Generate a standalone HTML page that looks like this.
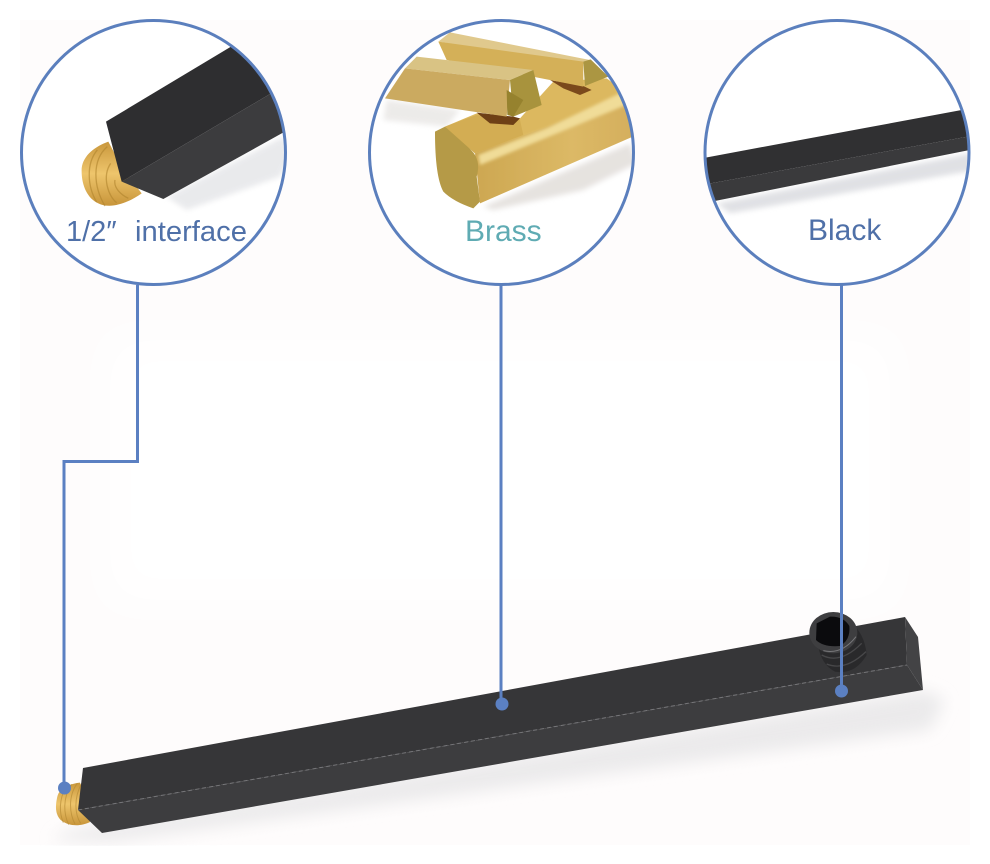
<!DOCTYPE html>
<html><head><meta charset="utf-8"><style>
html,body{margin:0;padding:0;background:#fff;width:990px;height:864px;overflow:hidden}
svg{display:block}
text{font-family:"Liberation Sans",Arial,sans-serif}
</style></head><body>
<svg width="990" height="864" viewBox="0 0 990 864" xmlns="http://www.w3.org/2000/svg">
<defs>
<filter id="b6" x="-30%" y="-60%" width="160%" height="220%"><feGaussianBlur stdDeviation="8"/></filter>
<filter id="b20" x="-30%" y="-60%" width="160%" height="220%"><feGaussianBlur stdDeviation="22"/></filter>
<filter id="b1"><feGaussianBlur stdDeviation="1"/></filter>
<filter id="soft" x="-5%" y="-5%" width="110%" height="110%"><feGaussianBlur stdDeviation="0.5"/></filter>
<filter id="band" x="-10%" y="-30%" width="120%" height="160%"><feGaussianBlur stdDeviation="5"/></filter>
<clipPath id="c1"><circle cx="153.500" cy="152.500" r="132"/></clipPath>
<clipPath id="c2"><circle cx="501.500" cy="152.500" r="132"/></clipPath>
<clipPath id="c3"><circle cx="837" cy="152.500" r="132"/></clipPath>
<linearGradient id="gold" x1="0" y1="0" x2="0" y2="1"><stop offset="0" stop-color="#c9973c"/><stop offset=".5" stop-color="#eec56c"/><stop offset="1" stop-color="#c8953a"/></linearGradient>
<linearGradient id="brassSide" x1="0" y1="0" x2="1" y2="0"><stop offset="0" stop-color="#cda751"/><stop offset=".6" stop-color="#dcb966"/><stop offset="1" stop-color="#d4ae5c"/></linearGradient>
</defs>

<rect width="990" height="864" fill="#fff"/>
<rect x="20" y="20" width="950" height="825" fill="#fefcfc"/>
<rect x="110" y="340" width="780" height="260" fill="#fff" filter="url(#b20)"/>

<!-- main bar shadow -->
<polygon points="70,830 923,690 945,700 930,730 110,842 50,840" fill="#dcdcde" filter="url(#b6)" opacity=".55"/>
<rect x="0" y="846" width="990" height="18" fill="#fff"/>

<!-- thread -->
<g transform="translate(30 740) scale(.3333)">
<path d="M150 128 C115 132 88 145 82 170 C74 205 78 225 92 240 C120 262 155 258 180 246 L170 190Z" fill="url(#gold)"/>
<g fill="none" stroke="#b58a34" stroke-width="3" opacity=".65">
<path d="M142 130 C112 170 120 225 135 252"/><path d="M125 133 C96 175 102 225 116 254"/><path d="M108 140 C86 180 88 220 100 248"/><path d="M155 130 C130 175 135 225 152 250"/>
</g>
</g>

<!-- main bar -->
<polygon points="83,768 905,617 907,665 78,810" fill="#363638"/>
<polygon points="78,810 907,665 923,690 102,833" fill="#3d3d3f"/>
<polygon points="905,617 918,637 923,690 907,665" fill="#434345"/>
<line x1="78" y1="810" x2="907" y2="665" stroke="#77777a" stroke-width="1" stroke-dasharray="4 3"/>

<!-- fitting -->
<g transform="translate(780 590) scale(.3333)">
<path d="M115 170 Q125 225 165 245 Q225 255 260 195 Q255 140 225 110Z" fill="#29292b"/>
<g fill="none" stroke="#474749" stroke-width="4">
<path d="M125 195 Q180 225 245 160"/><path d="M140 222 Q195 245 258 185"/>
</g>
<ellipse cx="160" cy="128" rx="72" ry="62" fill="#3e3e40"/>
<path d="M110 100 L150 80 Q190 78 208 108 Q212 150 180 168 Q130 172 108 150Z" fill="#0b0b0d"/>
<path d="M130 182 Q185 195 228 140" fill="none" stroke="#77777a" stroke-width="3"/>
</g>

<!-- connectors -->
<g fill="none" stroke="#5b80c2" stroke-width="3">
<path d="M137.500 285V461.500H64V788"/>
<path d="M501 285V704"/>
<path d="M841.500 285V691"/>
</g>
<g fill="#5b80c2">
<circle cx="64.500" cy="788" r="6.500"/>
<circle cx="502" cy="704" r="6.500"/>
<circle cx="841.500" cy="691" r="6.500"/>
</g>

<!-- circle 1 -->
<circle cx="153.500" cy="152.500" r="132" fill="#fff"/>
<g clip-path="url(#c1)">
<g transform="scale(.3333)">
<polygon points="500,590 850,410 870,470 840,530 560,630" fill="#e4e5e8" filter="url(#b6)" opacity=".8"/>
<path d="M325 425 C285 440 250 465 245 505 C243 555 262 595 295 610 C335 630 390 605 425 580 L365 500Z" fill="url(#gold)"/>
<g fill="none" stroke="#b0842e" stroke-width="4" opacity=".6">
<path d="M322 440 C275 480 280 560 315 618"/><path d="M292 450 C258 490 262 560 290 606"/><path d="M332 490 C305 530 325 590 350 608"/><path d="M345 540 C340 565 365 585 385 595"/>
</g>
<polygon points="318,365 785,85 905,226 365,545" fill="#2e2e30"/>
<polygon points="365,545 905,226 945,345 490,597" fill="#3c3c3e"/>
</g>
</g>
<circle cx="153.500" cy="152.500" r="132" fill="none" stroke="#5b7fbd" stroke-width="3"/>
<text x="66" y="241" font-size="29" fill="#4f70a8">1/2″</text>
<text x="135" y="241" font-size="29" fill="#4f70a8" textLength="112" lengthAdjust="spacingAndGlyphs">interface</text>

<!-- circle 2 -->
<circle cx="501.500" cy="152.500" r="132" fill="#fff"/>
<g clip-path="url(#c2)">
<g transform="translate(350 0) scale(.3333)">
<polygon points="400,620 840,430 860,490 700,570 430,630" fill="#e0dcd8" filter="url(#b6)" opacity=".8"/>
<polygon points="110,300 330,330 290,380 100,360" fill="#e8e6e4" filter="url(#b6)" opacity=".8"/>
<g filter="url(#soft)">
<!-- big bar -->
<polygon points="285,380 380,340 510,355 610,245 770,235 860,300 375,460" fill="#dcb85f"/>
<polygon points="375,460 860,280 860,405 390,610" fill="url(#brassSide)"/>
<polygon points="385,465 590,385 830,270 840,310 390,495" fill="#f0dc98" filter="url(#band)"/>
<path d="M255 395 L285 380 Q330 410 372 460 Q392 490 380 530 L390 605 L370 625 Q310 605 280 575 Q255 530 255 395Z" fill="#b59a46"/>
<polygon points="285,380 375,460 520,405 510,360 380,345" fill="#d3ad52"/>
<polygon points="560,375 610,245 730,270 690,320" fill="#dcb85f"/>
<!-- contact shadows -->
<polygon points="380,338 490,350 510,355 490,375 420,370" fill="#6e3f17" filter="url(#b1)"/>
<polygon points="600,240 700,258 725,270 690,285 640,265" fill="#7a4a1c" filter="url(#b1)"/>
<!-- back bar -->
<polygon points="265,125 300,97 720,180 695,195" fill="#e0c98d"/>
<polygon points="265,125 700,185 700,260 600,240 290,180" fill="#d4b058"/>
<polygon points="700,185 722,178 775,230 705,258" fill="#ab9642"/>
<!-- front bar -->
<polygon points="165,205 200,170 550,210 480,240" fill="#d9c384"/>
<polygon points="165,205 480,240 470,350 105,295" fill="#cbaa60"/>
<polygon points="480,240 550,210 575,315 490,350" fill="#a8933e"/>
<polygon points="470,270 520,300 490,350 472,345" fill="#96822f"/>
</g>
</g>
</g>
<circle cx="501.500" cy="152.500" r="132" fill="none" stroke="#5b7fbd" stroke-width="3"/>
<text x="465" y="241" font-size="30" fill="#5fabb3">Brass</text>

<!-- circle 3 -->
<circle cx="837" cy="152.500" r="132" fill="#fff"/>
<g clip-path="url(#c3)">
<g transform="translate(690 0) scale(.3333)">
<polygon points="80,610 840,460 860,510 120,640" fill="#dddee2" filter="url(#b6)" opacity=".9"/>
<polygon points="30,476 815,330 860,322 860,405 30,556" fill="#303032"/>
<polygon points="30,556 860,405 860,446 80,602 30,612" fill="#3a3a3c"/>
</g>
</g>
<circle cx="837" cy="152.500" r="132" fill="none" stroke="#5b7fbd" stroke-width="3"/>
<text x="808" y="240" font-size="30" fill="#4f70a8">Black</text>
</svg>
</body></html>
